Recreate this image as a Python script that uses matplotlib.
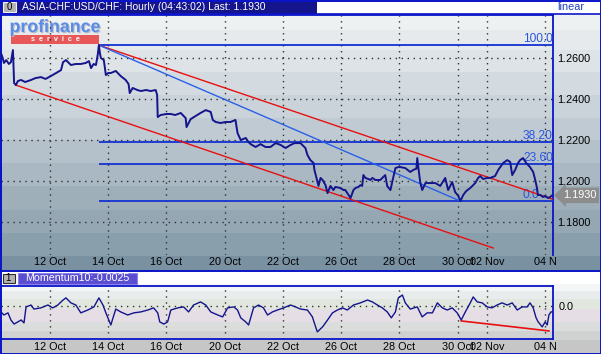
import numpy as np
import matplotlib.pyplot as plt
import matplotlib.patheffects as pe
from matplotlib.patches import Rectangle
from matplotlib.colors import to_rgb

plt.rcParams['font.family'] = ['Liberation Sans', 'DejaVu Sans']

W, H = 601, 354

# x axis = trading days after 12 Oct 00:00 (weekends removed)
tick_pos = [0, 2, 4, 6, 8, 10, 12, 14, 15, 17]
tick_labels = ["12 Oct", "14 Oct", "16 Oct", "20 Oct", "22 Oct", "26 Oct",
               "28 Oct", "30 Oct", "02 Nov", "04 N"]
price_ticks = [1.18, 1.20, 1.22, 1.24, 1.26]

price_t = [-1.68, -1.62, -1.58, -1.50, -1.41, -1.34, -1.27, -1.23, -1.17, -1.10,
           -0.99, -0.85, -0.65, -0.50, -0.31, -0.15, 0.03, 0.21, 0.38, 0.45,
           0.55, 0.65, 0.72, 0.89, 1.06, 1.23, 1.34, 1.41, 1.50, 1.58,
           1.64, 1.68, 1.72, 1.75, 1.85, 1.92, 2.00, 2.09, 2.26, 2.43,
           2.60, 2.70, 2.74, 2.84, 3.00, 3.12, 3.30, 3.46, 3.63, 3.68,
           3.70, 3.80, 4.00, 4.15, 4.30, 4.49, 4.66, 4.69, 4.83, 5.00,
           5.17, 5.35, 5.52, 5.59, 5.69, 5.86, 6.03, 6.20, 6.37, 6.44,
           6.55, 6.72, 6.82, 6.89, 7.06, 7.23, 7.40, 7.57, 7.75, 7.92,
           8.09, 8.26, 8.40, 8.60, 8.77, 8.84, 8.94, 9.05, 9.08, 9.15,
           9.22, 9.29, 9.36, 9.46, 9.53, 9.63, 9.73, 9.80, 9.97, 10.08,
           10.14, 10.25, 10.32, 10.42, 10.49, 10.59, 10.66, 10.72, 10.76, 10.83,
           10.93, 11.00, 11.07, 11.17, 11.34, 11.51, 11.58, 11.69, 11.75, 11.86,
           11.96, 12.03, 12.20, 12.37, 12.47, 12.58, 12.61, 12.65, 12.71, 12.78,
           12.89, 13.06, 13.23, 13.40, 13.57, 13.67, 13.81, 13.91, 14.02, 14.09,
           14.19, 14.29, 14.43, 14.53, 14.60, 14.70, 14.77, 14.87, 15.01, 15.11,
           15.28, 15.39, 15.46, 15.56, 15.70, 15.80, 15.87, 15.97, 16.07, 16.14,
           16.24, 16.35, 16.48, 16.59, 16.66, 16.72, 16.75, 16.83, 16.93, 17.00,
           17.10, 17.17, 17.24]
price = [1.2624, 1.2600, 1.2576, 1.2590, 1.2571, 1.2580, 1.2639, 1.2478, 1.2468, 1.2488,
         1.2493, 1.2483, 1.2493, 1.2502, 1.2507, 1.2498, 1.2512, 1.2527, 1.2541, 1.2580,
         1.2590, 1.2576, 1.2566, 1.2571, 1.2571, 1.2576, 1.2585, 1.2551, 1.2571, 1.2566,
         1.2615, 1.2663, 1.2620, 1.2600, 1.2590, 1.2517, 1.2527, 1.2527, 1.2537, 1.2512,
         1.2493, 1.2473, 1.2429, 1.2454, 1.2444, 1.2439, 1.2444, 1.2439, 1.2444, 1.2420,
         1.2312, 1.2322, 1.2327, 1.2327, 1.2322, 1.2332, 1.2307, 1.2263, 1.2302, 1.2317,
         1.2332, 1.2346, 1.2337, 1.2298, 1.2288, 1.2283, 1.2288, 1.2288, 1.2298, 1.2234,
         1.2200, 1.2210, 1.2190, 1.2180, 1.2166, 1.2180, 1.2166, 1.2166, 1.2185, 1.2176,
         1.2161, 1.2176, 1.2185, 1.2185, 1.2161, 1.2127, 1.2102, 1.2088, 1.2054, 1.2015,
         1.1976, 1.2015, 1.2005, 1.1980, 1.1941, 1.1976, 1.1956, 1.1971, 1.1966, 1.1956,
         1.1956, 1.1932, 1.1917, 1.1956, 1.1966, 1.1971, 1.1980, 1.1976, 1.2029, 1.2015,
         1.2010, 1.2005, 1.2015, 1.2005, 1.2005, 1.2029, 1.1975, 1.1956, 1.1995, 1.2063,
         1.2068, 1.2068, 1.2063, 1.2044, 1.2054, 1.2060, 1.2112, 1.2063, 1.1995, 1.1956,
         1.1990, 1.1990, 1.1990, 1.1976, 1.2015, 1.1956, 1.1995, 1.1946, 1.1927, 1.1902,
         1.1932, 1.1951, 1.1966, 1.1980, 1.1990, 1.2015, 1.2024, 1.2010, 1.2015, 1.2015,
         1.2024, 1.2054, 1.2068, 1.2088, 1.2102, 1.2093, 1.2029, 1.2054, 1.2088, 1.2102,
         1.2112, 1.2088, 1.2068, 1.2044, 1.2005, 1.1966, 1.1932, 1.1932, 1.1922, 1.1927,
         1.1917, 1.1922, 1.1930]

# channel / trend lines (endpoints)
chan_upper_t, chan_upper_p = [1.68, 17.24], [1.2663, 1.1912]
chan_lower_t, chan_lower_p = [-1.17, 15.22], [1.2468, 1.1673]
trend_t, trend_p = [1.68, 14.09], [1.2663, 1.1902]

# fibonacci retracement
fib_start = 1.68
fib_high, fib_low = 1.2663, 1.1902
fib_levels = [100.0, 38.2, 23.6, 0.0]
fib_labels = ["100.00", "38.20", "23.60", "0.0"]

mom_t = [-1.68, -1.58, -1.44, -1.34, -1.23, -1.10, -0.99, -0.89, -0.82, -0.65,
         -0.55, -0.31, -0.07, 0.10, 0.27, 0.45, 0.55, 0.72, 0.89, 1.06,
         1.30, 1.51, 1.68, 1.82, 1.92, 2.09, 2.26, 2.43, 2.67, 2.88,
         3.12, 3.36, 3.56, 3.70, 3.77, 3.91, 4.04, 4.15, 4.39, 4.59,
         4.76, 4.93, 5.17, 5.35, 5.52, 5.76, 5.93, 6.10, 6.31, 6.44,
         6.55, 6.72, 6.82, 6.99, 7.16, 7.33, 7.47, 7.64, 7.81, 8.02,
         8.26, 8.43, 8.60, 8.84, 9.01, 9.12, 9.18, 9.36, 9.53, 9.70,
         9.87, 10.04, 10.21, 10.42, 10.66, 10.90, 11.07, 11.24, 11.41, 11.58,
         11.72, 11.86, 11.96, 12.10, 12.20, 12.37, 12.61, 12.78, 12.95, 13.13,
         13.30, 13.47, 13.64, 13.81, 13.98, 14.12, 14.26, 14.43, 14.53, 14.67,
         14.84, 15.01, 15.18, 15.35, 15.52, 15.70, 15.87, 16.04, 16.21, 16.38,
         16.48, 16.59, 16.69, 16.76, 16.90, 17.00, 17.07, 17.13, 17.20, 17.24]
mom = [-0.0025, -0.0038, -0.0029, -0.0059, -0.0076, -0.0067, -0.0059, -0.0071, -0.0004, 0.0004,
       -0.0013, -0.0008, 0.0004, -0.0008, 0.0004, 0.0025, 0.0034, 0.0013, 0.0004, -0.0029,
       -0.0017, -0.0004, 0.0034, 0.0004, -0.0029, -0.0080, -0.0013, -0.0025, -0.0038, -0.0029,
       -0.0025, -0.0017, -0.0008, -0.0029, -0.0067, -0.0076, -0.0067, -0.0017, -0.0008, -0.0004,
       -0.0025, 0.0004, 0.0017, 0.0004, -0.0025, -0.0038, -0.0046, -0.0008, -0.0004, -0.0017,
       -0.0050, -0.0067, -0.0080, -0.0008, 0.0004, -0.0008, -0.0038, -0.0025, -0.0017, -0.0008,
       0.0004, -0.0004, -0.0013, -0.0017, -0.0046, -0.0088, -0.0109, -0.0088, -0.0059, -0.0029,
       -0.0017, -0.0008, -0.0017, 0.0004, 0.0013, 0.0025, 0.0017, 0.0004, -0.0008, -0.0025,
       -0.0050, -0.0025, 0.0034, 0.0046, 0.0013, -0.0013, -0.0004, -0.0046, -0.0029, -0.0029,
       0.0013, -0.0008, -0.0017, -0.0008, -0.0029, -0.0059, -0.0025, 0.0013, 0.0038, 0.0017,
       0.0013, -0.0004, -0.0008, 0.0004, 0.0013, 0.0004, 0.0013, -0.0017, -0.0004, -0.0004,
       0.0013, -0.0008, -0.0050, -0.0067, -0.0088, -0.0067, -0.0080, -0.0038, -0.0025, -0.0025]
mom_trend_t, mom_trend_v = [14.12, 17.13], [-0.0063, -0.0105]

BORDER = '#0a14c8'
NAVY = '#14148c'
GRID = dict(color='#303030', linestyle=(0, (1, 3.3)), linewidth=1.0)

fig = plt.figure(figsize=(W / 100, H / 100), dpi=100)

# ---- background (pixel coordinates) ----
bg = fig.add_axes([0, 0, 1, 1])
bg.set_zorder(0)
rows = np.ones((H, 1, 3))
bands = [(15, 30, '#eef1f1'), (30, 50, '#e6eaec'), (50, 72, '#dde3e6'),
         (72, 95, '#d4dbe0'), (95, 118, '#cad3d9'), (118, 140, '#bfcad2'),
         (140, 163, '#b4c1ca'), (163, 186, '#a9b8c2'), (186, 210, '#9eafba'),
         (210, 233, '#94a7b3'), (233, 256, '#8a9fac'), (256, 271, '#7a91a1'),
         (284, 291, '#f4f6f6'), (291, 299, '#e8ecec'), (299, 309, '#e1e7de'),
         (309, 322, '#e5dfe5'), (322, 331, '#dbdddd'), (331, 340, '#d0d2d2'),
         (340, 354, '#c6c6c6')]
for y0, y1, c in bands:
    rows[y0:y1, 0, :] = to_rgb(c)
bg.imshow(rows, extent=[0, W, H, 0], aspect='auto', interpolation='nearest')
bg.set_xlim(0, W)
bg.set_ylim(H, 0)
bg.axis('off')

# title bar
bg.add_patch(Rectangle((0, 0), 317, 13.5, fc=NAVY, ec='none'))
bg.add_patch(Rectangle((2.5, 2), 13, 10, fc='#b4b4b4', ec='#f0f0f0', lw=0.8))
bg.text(9, 7.3, "0", ha='center', va='center', fontsize=7, color='black')
bg.text(22, 7.3, "ASIA-CHF:USD/CHF: Hourly (04:43:02) Last: 1.1930",
        ha='left', va='center', fontsize=7.5, color='white')
bg.text(557, 7.5, "linear", ha='left', va='center', fontsize=7.8, color='#1d3fc0')
bg.plot([0, W], [14, 14], color=BORDER, lw=1.2)
bg.plot([0, W], [270.5, 270.5], color=BORDER, lw=1.4)

# logo
bg.add_patch(Rectangle((11, 35), 88, 8.5, fc='#e85858', ec='none'))
bg.text(55, 27.5, "profinance", ha='center', va='center', fontsize=12.8,
        fontweight='bold', color='#5b8ce8',
        path_effects=[pe.withSimplePatchShadow(offset=(0.8, -0.8),
                                               shadow_rgbFace='#b8bcc6', alpha=1)])
bg.text(55, 39.5, "s  e  r  v  i  c  e", ha='center', va='center', fontsize=5.2,
        fontweight='bold', color='white')

# momentum header
bg.add_patch(Rectangle((2.5, 273.5), 12.5, 9, fc='#b4b4b4', ec='#303030', lw=0.8))
bg.text(8.5, 278.3, "1", ha='center', va='center', fontsize=7, color='black')
bg.add_patch(Rectangle((18, 272.5), 119, 11, fc='#5a4ed0', ec='#8a80f0', lw=0.8))
bg.text(25, 278.3, "Momentum10:-0.0025", ha='left', va='center', fontsize=7.7,
        color='white')

bg.add_patch(Rectangle((0.5, 0.5), W - 1, H - 1, fc='none', ec=BORDER, lw=1.4))

# ---- main price panel ----
ax = fig.add_axes([1 / W, 1 - 255 / H, 552 / W, 240 / H])
ax.set_zorder(2)
ax.patch.set_visible(False)
ax.set_xlim(-1.68, 17.27)
ax.set_ylim(1.1639, 1.2810)

ax.grid(True, **GRID)
ax.set_xticks(tick_pos)
ax.set_xticklabels(tick_labels)
ax.set_yticks(price_ticks)
ax.set_yticklabels([f"{v:.4f}" for v in price_ticks])
ax.yaxis.tick_right()
ax.tick_params(axis='both', length=0, labelsize=7.8, colors='black')
ax.tick_params(axis='y', pad=3)
ax.tick_params(axis='x', pad=1.5)
for s in ['left', 'right', 'top']:
    ax.spines[s].set_color(BORDER)
    ax.spines[s].set_linewidth(1.3)
ax.spines['bottom'].set_visible(False)

fib_prices = [fib_low + (fib_high - fib_low) * lv / 100 for lv in fib_levels]
ax.hlines(fib_prices, fib_start, 17.27, color='#1432d2', lw=1.3, zorder=3)
for fp, lab in zip(fib_prices, fib_labels):
    ax.text(16.24, fp, lab, ha='left', va='bottom', fontsize=8.6, color='#2a55e0',
            clip_on=True, zorder=4)

ax.plot(chan_upper_t, chan_upper_p, color='#e81010', lw=1.0, zorder=4)
ax.plot(chan_lower_t, chan_lower_p, color='#e81010', lw=1.0, zorder=4)
ax.plot(trend_t, trend_p, color='#2a60e8', lw=1.0, zorder=4)
ax.plot(price_t, price, color=NAVY, lw=1.4, zorder=5)

ax.annotate(f"{price[-1]:.4f}", xy=(1, price[-1]), xycoords=('axes fraction', 'data'),
            xytext=(7, 0), textcoords='offset points', ha='left', va='center',
            fontsize=7.8, color='white', annotation_clip=False,
            bbox=dict(boxstyle='larrow,pad=0.25', fc='#8c8c8c', ec='none'))

# ---- momentum panel ----
mx = fig.add_axes([1 / W, 1 - 339 / H, 552 / W, 53 / H])
mx.set_zorder(2)
mx.patch.set_visible(False)
mx.set_xlim(-1.68, 17.27)
mx.set_ylim(-0.0139, 0.0084)
mx.grid(True, **GRID)
mx.set_xticks(tick_pos)
mx.set_xticklabels(tick_labels)
mx.set_yticks([0.0])
mx.set_yticklabels(["0.0"])
mx.yaxis.tick_right()
mx.tick_params(axis='both', length=0, labelsize=7.8, colors='black')
mx.tick_params(axis='y', pad=4)
mx.tick_params(axis='x', pad=2)
for s in mx.spines.values():
    s.set_color(BORDER)
    s.set_linewidth(1.3)
mx.plot(mom_trend_t, mom_trend_v, color='#e81010', lw=1.2, zorder=4)
mx.plot(mom_t, mom, color=NAVY, lw=1.0, zorder=5)

fig.savefig("out.png", dpi=100)
